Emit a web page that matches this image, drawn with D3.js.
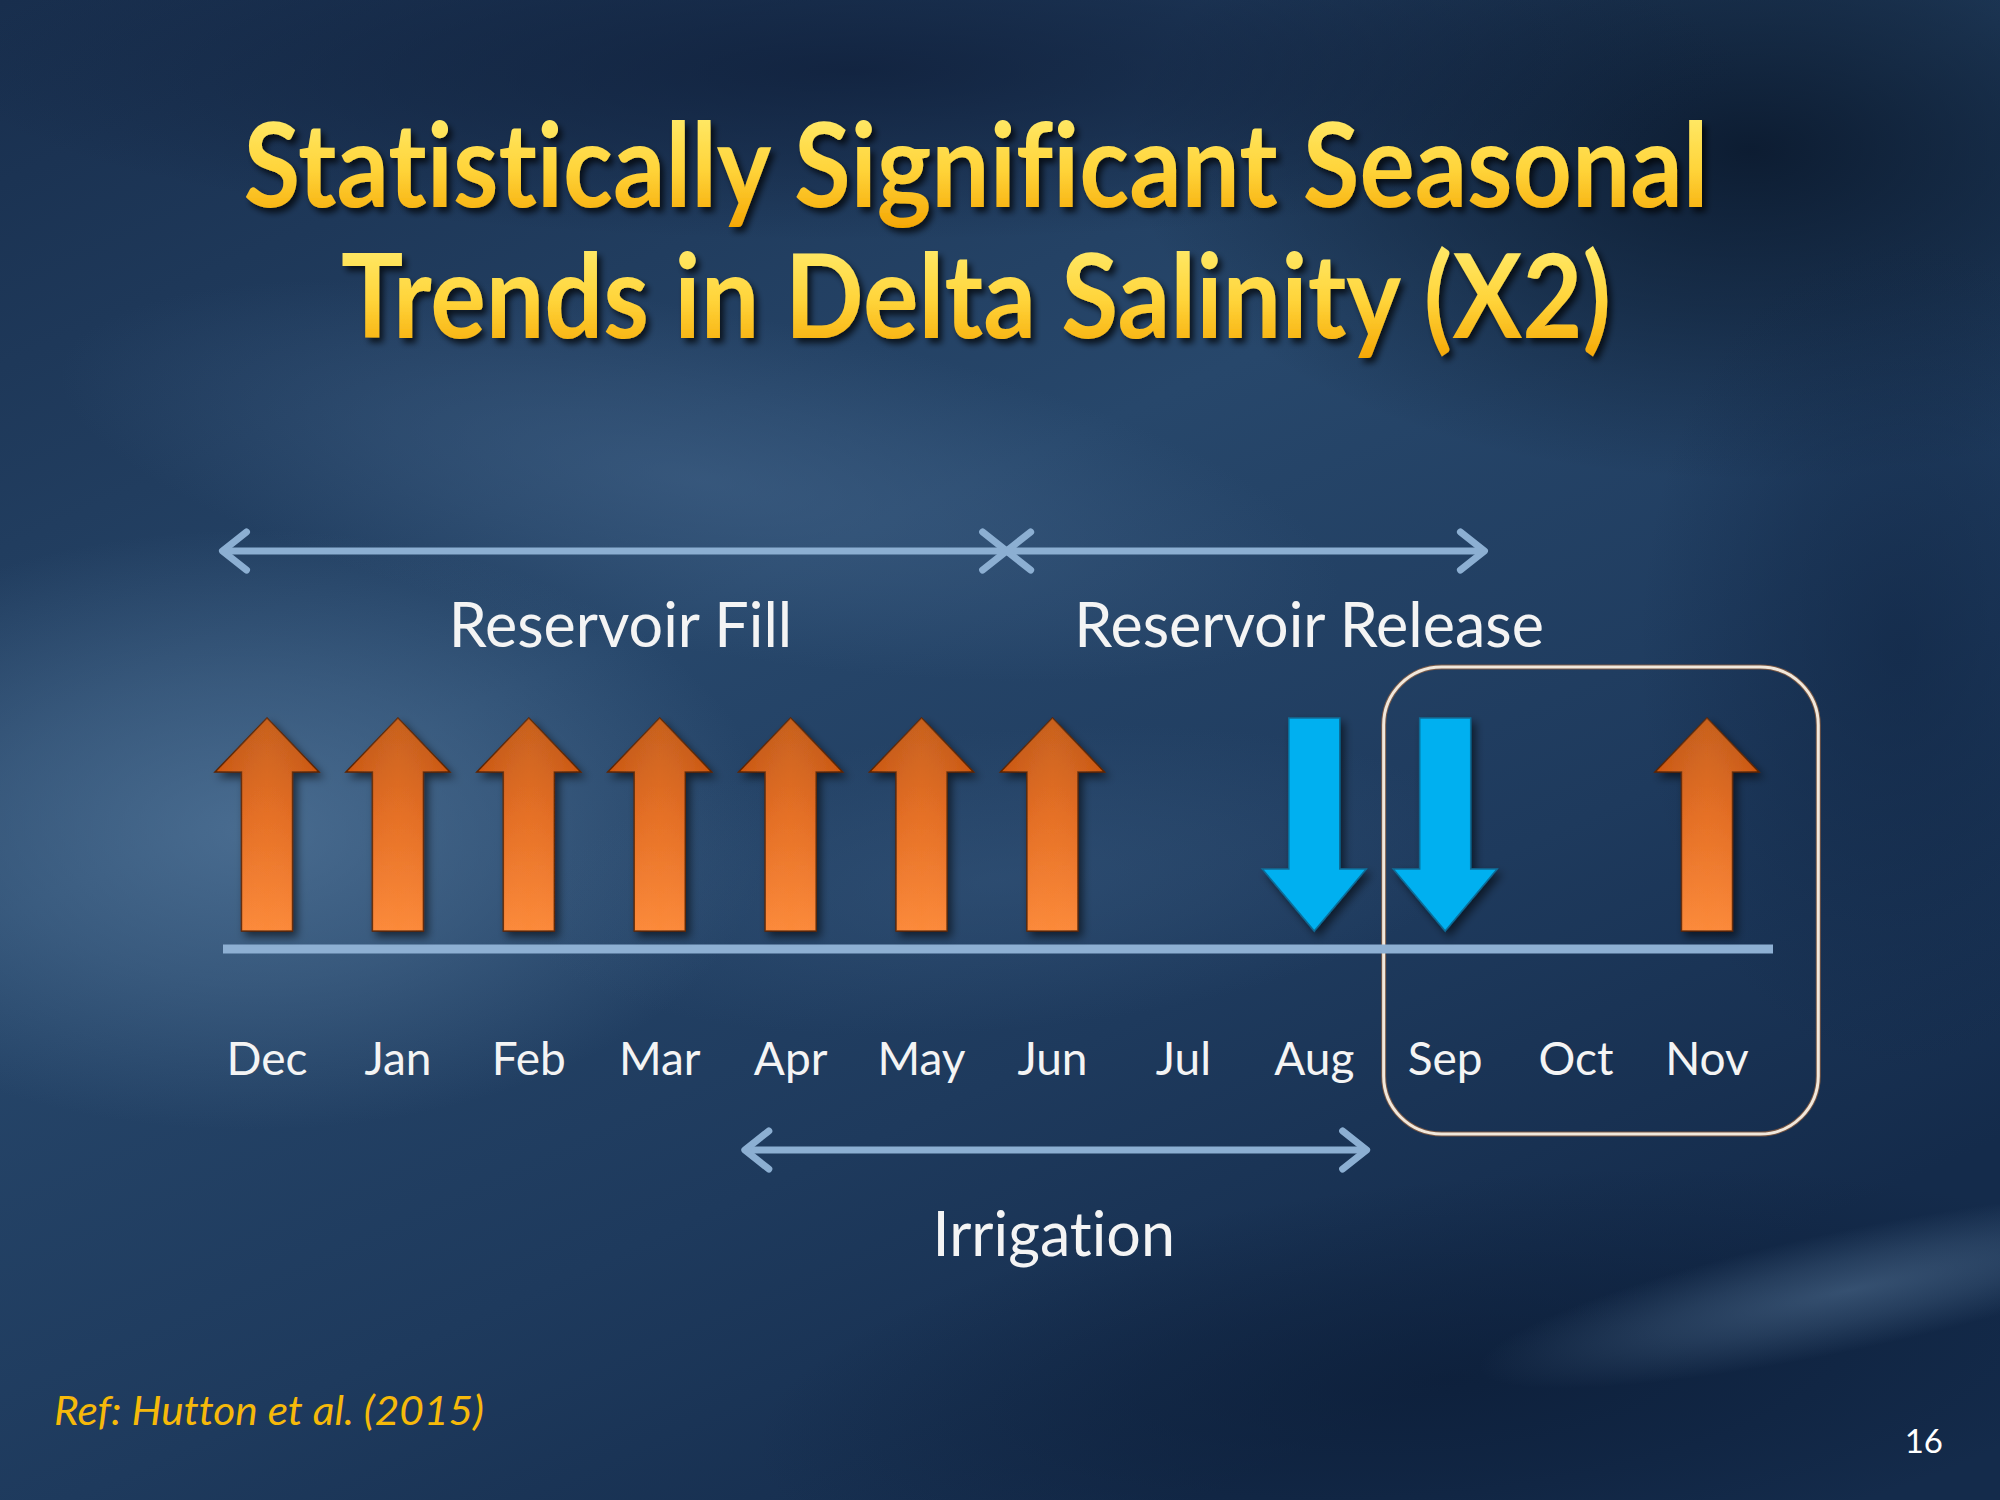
<!DOCTYPE html>
<html>
<head>
<meta charset="utf-8">
<script src="https://cdn.jsdelivr.net/npm/d3@7"></script>
<style>
  html, body { margin: 0; padding: 0; background: #1b3456; }
  svg { display: block; }
  text { font-variant-ligatures: none; font-feature-settings: "liga" 0, "clig" 0; }
</style>
</head>
<body>
<div id="chart"></div>
<script>
var months = ["Dec", "Jan", "Feb", "Mar", "Apr", "May", "Jun", "Jul", "Aug", "Sep", "Oct", "Nov"];
// trend direction of X2 per month: 1 = up (significant increase), -1 = down, 0 = none
var trend = [1, 1, 1, 1, 1, 1, 1, 0, -1, -1, 0, 1];
// periods as fractional month positions (0 = Dec)
var periodNames = ["Reservoir Fill", "Reservoir Release", "Irrigation"];
var periodStart = [-0.34, 5.65, 3.65];
var periodEnd = [5.65, 9.3, 8.4];
var periodLabelAt = [2.70, 7.96, 6.01];
var periodRow = ["top", "top", "bottom"];
var titleLines = ["Statistically Significant Seasonal", "Trends in Delta Salinity (X2)"];
var highlightMonths = [8.53, 11.85];
var refText = "Ref: Hutton et al. (2015)";
var pageNumber = "16";

var W = 2000, H = 1500;
var svg = d3.select("#chart").append("svg")
    .attr("width", W).attr("height", H);
var defs = svg.append("defs");

// ---- background ----
var bg = defs.append("linearGradient").attr("id", "bg")
    .attr("x1", 0).attr("y1", 0).attr("x2", 0.6).attr("y2", 1);
bg.append("stop").attr("offset", "0%").attr("stop-color", "#182e4d");
bg.append("stop").attr("offset", "45%").attr("stop-color", "#27476b");
bg.append("stop").attr("offset", "75%").attr("stop-color", "#1e3a5d");
bg.append("stop").attr("offset", "100%").attr("stop-color", "#142b4b");

svg.append("rect").attr("width", W).attr("height", H).attr("fill", "url(#bg)");

// soft light / dark patches drawn as radial gradients
var patches = [
    { cx: 250, cy: 830, rx: 520, ry: 300, rot: 0, color: "#54789c", op: 0.75 },
    { cx: 700, cy: 480, rx: 650, ry: 170, rot: 10, color: "#45678d", op: 0.55 },
    { cx: 1000, cy: 880, rx: 480, ry: 150, rot: -5, color: "#3a5c82", op: 0.45 },
    { cx: 1750, cy: 150, rx: 620, ry: 330, rot: 0, color: "#081528", op: 0.85 },
    { cx: 850, cy: 70, rx: 900, ry: 170, rot: 0, color: "#0e1d38", op: 0.75 },
    { cx: 1450, cy: 1380, rx: 700, ry: 200, rot: -6, color: "#0b1c36", op: 0.7 },
    { cx: 1850, cy: 1290, rx: 380, ry: 60, rot: -12, color: "#5a7a9c", op: 0.5 },
    { cx: 1900, cy: 650, rx: 260, ry: 420, rot: 0, color: "#0f2442", op: 0.6 }
];
patches.forEach(function(p, i) {
    var rg = defs.append("radialGradient").attr("id", "patch" + i);
    rg.append("stop").attr("offset", "0%").attr("stop-color", p.color).attr("stop-opacity", p.op);
    rg.append("stop").attr("offset", "50%").attr("stop-color", p.color).attr("stop-opacity", p.op * 0.55);
    rg.append("stop").attr("offset", "100%").attr("stop-color", p.color).attr("stop-opacity", 0);
});
svg.append("g").selectAll("ellipse").data(patches).enter().append("ellipse")
    .attr("cx", function(d) { return d.cx; })
    .attr("cy", function(d) { return d.cy; })
    .attr("rx", function(d) { return d.rx; })
    .attr("ry", function(d) { return d.ry; })
    .attr("transform", function(d) { return "rotate(" + d.rot + "," + d.cx + "," + d.cy + ")"; })
    .attr("fill", function(d, i) { return "url(#patch" + i + ")"; });

var shadow = defs.append("filter").attr("id", "shadow")
    .attr("x", "-30%").attr("y", "-30%").attr("width", "160%").attr("height", "160%");
shadow.append("feDropShadow").attr("dx", 4).attr("dy", 5).attr("stdDeviation", 4)
    .attr("flood-color", "#000").attr("flood-opacity", 0.55);

var tshadow = defs.append("filter").attr("id", "tshadow")
    .attr("x", "-10%").attr("y", "-30%").attr("width", "120%").attr("height", "160%");
tshadow.append("feDropShadow").attr("dx", 4).attr("dy", 5).attr("stdDeviation", 3)
    .attr("flood-color", "#000").attr("flood-opacity", 0.7);

// ---- title ----
var tg = defs.append("linearGradient").attr("id", "titleGrad")
    .attr("x1", 0).attr("y1", 0).attr("x2", 0).attr("y2", 1);
tg.append("stop").attr("offset", "0%").attr("stop-color", "#fff27a");
tg.append("stop").attr("offset", "55%").attr("stop-color", "#ffd43a");
tg.append("stop").attr("offset", "100%").attr("stop-color", "#f4a400");

var titleY = [207, 338];
var titleLen = [1465, 1270];
svg.append("g").attr("filter", "url(#tshadow)")
    .selectAll("text").data(titleLines).enter().append("text")
    .attr("x", 976)
    .attr("y", function(d, i) { return titleY[i]; })
    .attr("text-anchor", "middle")
    .attr("textLength", function(d, i) { return titleLen[i]; })
    .attr("lengthAdjust", "spacingAndGlyphs")
    .attr("font-family", "Lato, 'Open Sans', sans-serif")
    .attr("font-weight", 700)
    .attr("font-size", 116)
    .attr("fill", "url(#titleGrad)")
    .text(function(d) { return d; });

// ---- scales ----
var x = d3.scaleLinear().domain([0, months.length - 1]).range([267, 1707]);
var axisY = 949;

// ---- period arrows ----
var lineColor = "#8cafd2";
var rowY = { top: 551, bottom: 1150 };
var labelY = { top: 647, bottom: 1256 };

var chevron = function(g, px, py, dir) {
    var back = 24, half = 19;
    g.append("path")
        .attr("d", "M" + (px - dir * back) + "," + (py - half) +
                   " L" + px + "," + py +
                   " L" + (px - dir * back) + "," + (py + half))
        .attr("fill", "none").attr("stroke", lineColor)
        .attr("stroke-width", 7).attr("stroke-linecap", "round")
        .attr("stroke-linejoin", "round");
};

var periods = svg.append("g");
periodNames.forEach(function(name, i) {
    var x0 = x(periodStart[i]), x1 = x(periodEnd[i]), py = rowY[periodRow[i]];
    var g = periods.append("g");
    g.append("line")
        .attr("x1", x0 + 3).attr("x2", x1 - 3)
        .attr("y1", py).attr("y2", py)
        .attr("stroke", lineColor).attr("stroke-width", 7);
    chevron(g, x0, py, -1);
    chevron(g, x1, py, 1);
    g.append("text")
        .attr("x", x(periodLabelAt[i]))
        .attr("y", labelY[periodRow[i]])
        .attr("text-anchor", "middle")
        .attr("font-family", "Lato, 'Open Sans', sans-serif")
        .attr("font-size", 61)
        .attr("fill", "#f4f4f4")
        .text(name);
});

// ---- highlight box ----
var bx0 = x(highlightMonths[0]), bx1 = x(highlightMonths[1]);
svg.append("rect")
    .attr("x", bx0).attr("y", 667).attr("width", bx1 - bx0).attr("height", 467)
    .attr("rx", 58).attr("ry", 58)
    .attr("fill", "none").attr("stroke", "#b8703a").attr("stroke-width", 5)
    .attr("stroke-opacity", 0.6);
svg.append("rect")
    .attr("x", bx0).attr("y", 667).attr("width", bx1 - bx0).attr("height", 467)
    .attr("rx", 58).attr("ry", 58)
    .attr("fill", "none").attr("stroke", "#f1e8dc").attr("stroke-width", 3);

// ---- baseline ----
svg.append("line")
    .attr("x1", 223).attr("x2", 1773)
    .attr("y1", axisY).attr("y2", axisY)
    .attr("stroke", "#8eb0d3").attr("stroke-width", 9);

// ---- trend arrows ----
var og = defs.append("linearGradient").attr("id", "orangeGrad")
    .attr("x1", 0).attr("y1", 0).attr("x2", 0).attr("y2", 1);
og.append("stop").attr("offset", "0%").attr("stop-color", "#b84a06");
og.append("stop").attr("offset", "45%").attr("stop-color", "#de5e10");
og.append("stop").attr("offset", "100%").attr("stop-color", "#fb7f2a");

var oh = defs.append("linearGradient").attr("id", "orangeHi")
    .attr("x1", 0).attr("y1", 0).attr("x2", 1).attr("y2", 0);
oh.append("stop").attr("offset", "0%").attr("stop-color", "#fff").attr("stop-opacity", 0);
oh.append("stop").attr("offset", "50%").attr("stop-color", "#ffb070").attr("stop-opacity", 0.22);
oh.append("stop").attr("offset", "100%").attr("stop-color", "#fff").attr("stop-opacity", 0);

var arrowTop = 718, arrowBottom = 931;
var headW = 104, bodyW = 51;
var upHead = 54, downHead = 62;

var upPath = function(cx) {
    var hb = arrowTop + upHead;
    return "M" + cx + "," + arrowTop +
        " L" + (cx + headW / 2) + "," + hb +
        " L" + (cx + bodyW / 2) + "," + hb +
        " L" + (cx + bodyW / 2) + "," + arrowBottom +
        " L" + (cx - bodyW / 2) + "," + arrowBottom +
        " L" + (cx - bodyW / 2) + "," + hb +
        " L" + (cx - headW / 2) + "," + hb + " Z";
};
var downPath = function(cx) {
    var hb = arrowBottom - downHead;
    return "M" + cx + "," + arrowBottom +
        " L" + (cx + headW / 2) + "," + hb +
        " L" + (cx + bodyW / 2) + "," + hb +
        " L" + (cx + bodyW / 2) + "," + arrowTop +
        " L" + (cx - bodyW / 2) + "," + arrowTop +
        " L" + (cx - bodyW / 2) + "," + hb +
        " L" + (cx - headW / 2) + "," + hb + " Z";
};

var arrowData = months.map(function(m, i) { return { month: m, i: i, dir: trend[i] }; })
    .filter(function(d) { return d.dir !== 0; });

var arrows = svg.append("g").selectAll("g").data(arrowData).enter().append("g")
    .attr("filter", "url(#shadow)");

arrows.append("path")
    .attr("d", function(d) { return d.dir > 0 ? upPath(x(d.i)) : downPath(x(d.i)); })
    .attr("fill", function(d) { return d.dir > 0 ? "url(#orangeGrad)" : "#00b0f0"; })
    .attr("stroke", function(d) { return d.dir > 0 ? "#5e2400" : "#0a6d98"; })
    .attr("stroke-width", 1.5)
    .attr("stroke-linejoin", "miter");

arrows.filter(function(d) { return d.dir > 0; }).append("path")
    .attr("d", function(d) { return upPath(x(d.i)); })
    .attr("fill", "url(#orangeHi)");

// ---- month labels ----
svg.append("g").selectAll("text").data(months).enter().append("text")
    .attr("x", function(d, i) { return x(i); })
    .attr("y", 1075)
    .attr("text-anchor", "middle")
    .attr("font-family", "Lato, 'Open Sans', sans-serif")
    .attr("font-size", 46)
    .attr("fill", "#f4f4f4")
    .text(function(d) { return d; });

// ---- footer ----
svg.append("text")
    .attr("x", 54).attr("y", 1425)
    .attr("font-family", "Lato, 'Open Sans', sans-serif")
    .attr("font-style", "italic")
    .attr("font-size", 40)
    .attr("textLength", 430).attr("lengthAdjust", "spacingAndGlyphs")
    .attr("fill", "#f6b90a")
    .text(refText);

svg.append("text")
    .attr("x", 1943).attr("y", 1453)
    .attr("text-anchor", "end")
    .attr("font-family", "Lato, 'Open Sans', sans-serif")
    .attr("font-size", 33)
    .attr("fill", "#ffffff")
    .text(pageNumber);
</script>
</body>
</html>
